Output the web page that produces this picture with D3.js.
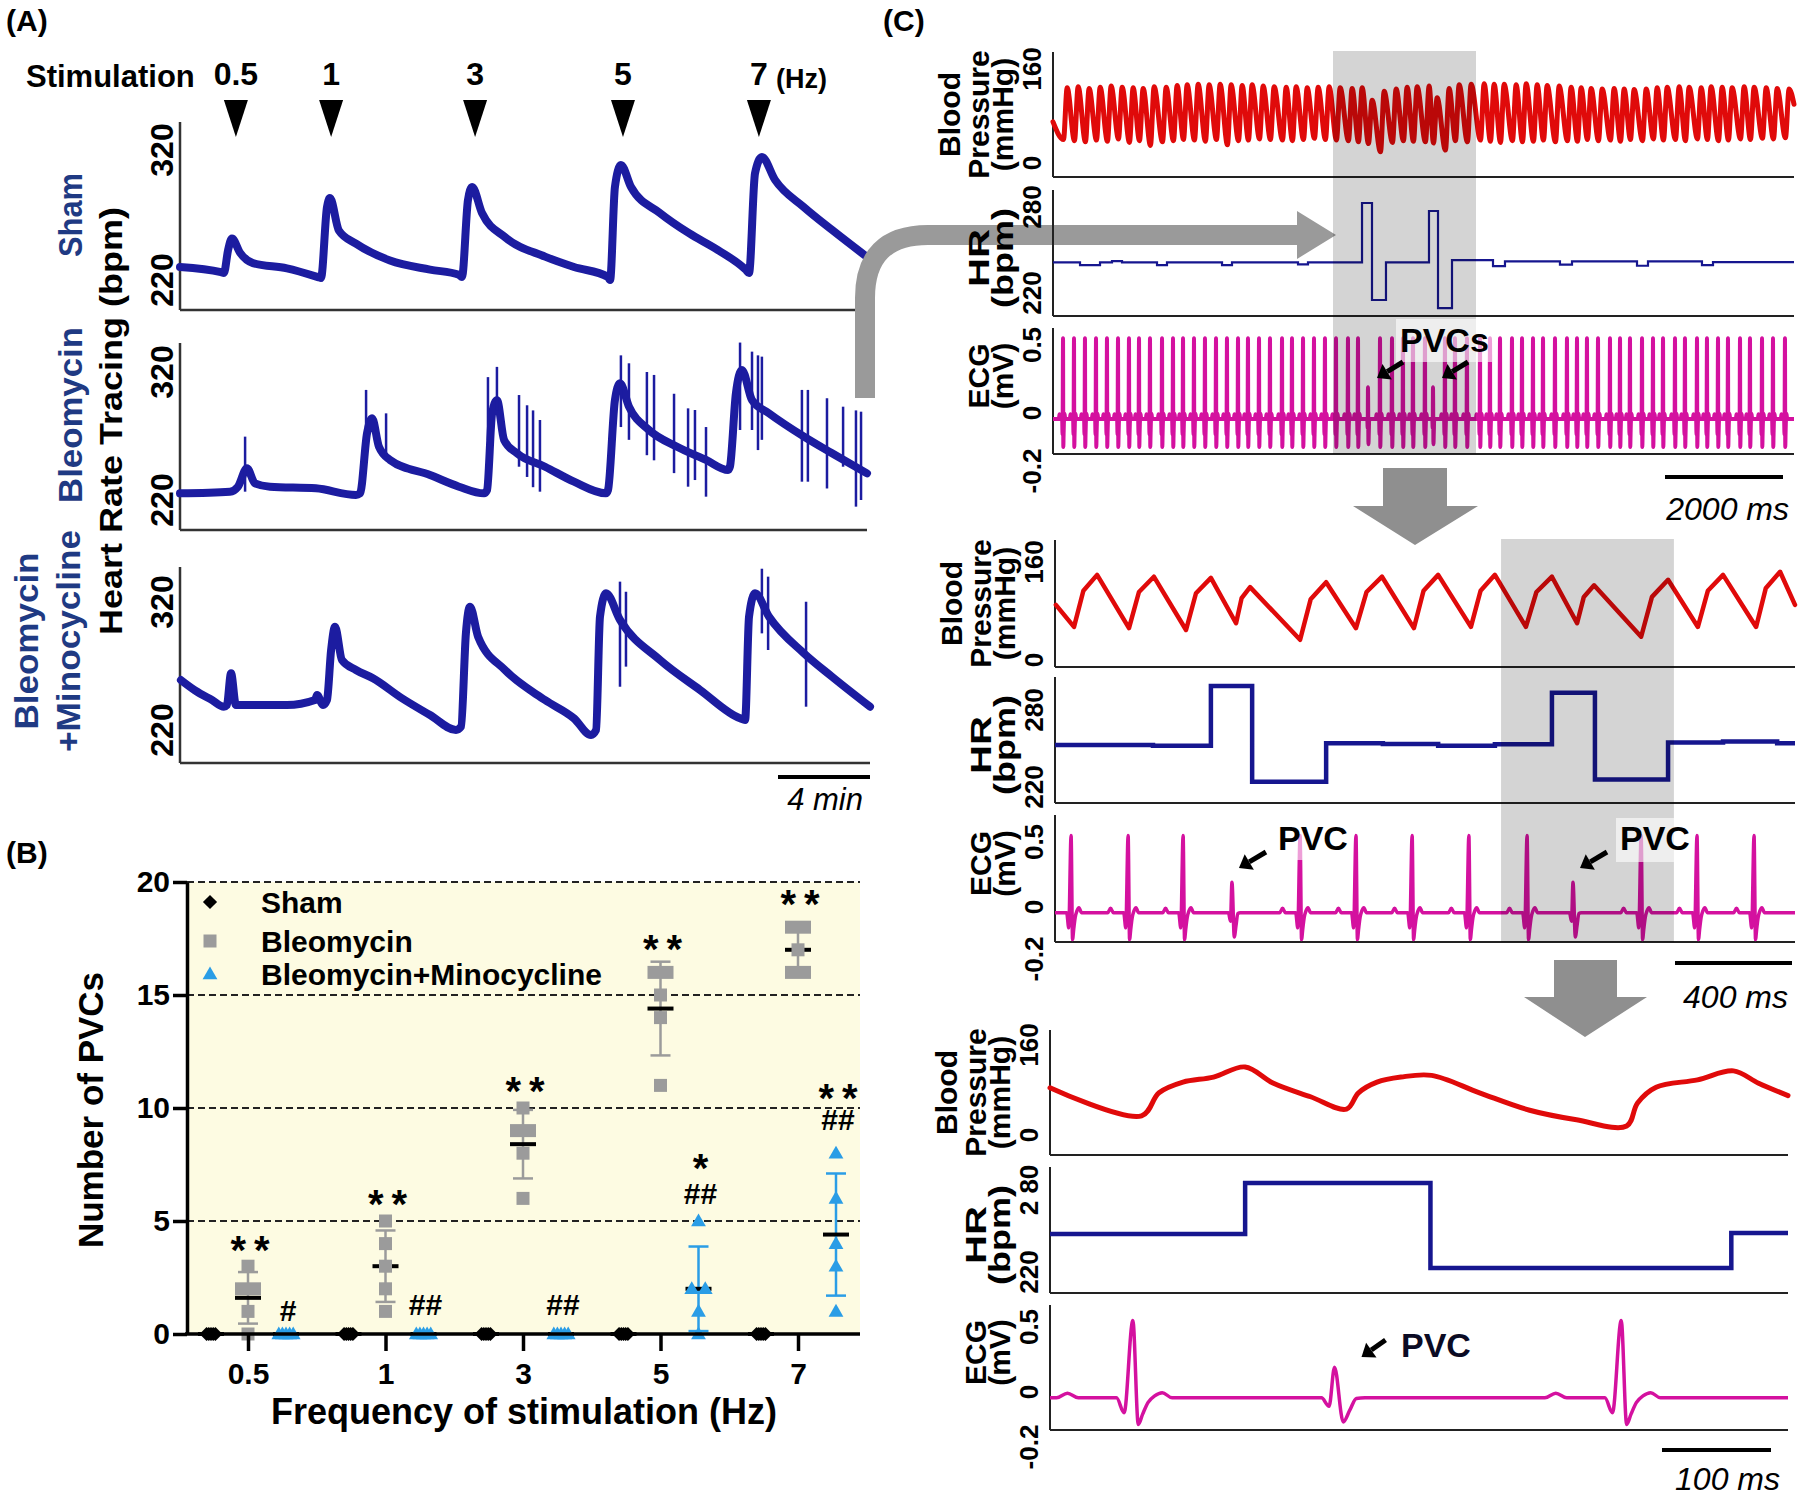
<!DOCTYPE html>
<html>
<head>
<meta charset="utf-8">
<script src="https://cdn.jsdelivr.net/npm/d3@7"></script>
<style>
  body { margin: 0; background: #fff; }
  svg { display: block; }
  text { font-family: "Liberation Sans", Arial, sans-serif; font-weight: bold; }
  text.plain { font-weight: normal; font-style: italic; }
</style>
</head>
<body>
<svg id="fig" width="1800" height="1496"></svg>
<script>
// ---------- Panel A: heart rate tracings (time in min, bpm) ----------
const stimLabels = ["0.5", "1", "3", "5", "7"];
const stimTimes = [2.43, 6.57, 12.83, 19.26, 25.17];

const shamTrace = [[0,230],[1.78,226],[1.91,225.4],[2.09,243],[2.26,252],[2.61,241],[3.17,233],[4.65,229],[6.04,222],[6.13,221.5],[6.39,276],[6.52,283],[6.91,258],[7.65,248],[9.13,235],[10.87,228],[12.13,224],[12.26,222.3],[12.52,281.5],[12.70,291.5],[13.13,271.5],[14.13,253],[15.87,238],[17.13,230],[18.61,222.3],[18.70,220],[18.91,291.5],[19.17,308.5],[19.61,291.5],[20.87,271.5],[22.13,256],[23.39,243],[24.61,227.7],[24.74,225.4],[25.0,302],[25.30,314.6],[25.87,297],[27.13,276],[28.35,258.5],[29.87,237.7]];

const bleoTrace = [[0,225.2],[2.17,226.5],[2.52,230.4],[2.91,244.8],[3.26,233],[3.91,230.4],[5.91,229.1],[7.65,224],[7.83,225.2],[8.13,272],[8.35,283.8],[8.65,261.6],[9.13,251.3],[10.87,239.5],[12.13,230.4],[13.22,225.2],[13.35,227.8],[13.57,287.7],[13.78,298],[14.09,266.9],[14.65,256.5],[15.87,246],[17.13,234.3],[18.52,225.2],[18.61,227.8],[18.91,298],[19.13,311.2],[19.52,292.9],[20.39,274.7],[21.61,261.6],[22.87,251.3],[23.83,243.4],[23.91,246],[24.17,303.4],[24.43,321.6],[24.87,298],[25.61,287.7],[27.13,269.5],[28.35,256.5],[29.87,240.8]];
// spikes: [time, top bpm, bottom bpm]
const bleoSpikes = [[2.83,269.5,226.5],[8.09,306,277],[8.96,287.7,253.8],[13.39,316,267],[13.78,324,290],[14.74,302,246],[15.09,294,238],[15.35,290,230],[15.65,282.5,226.5],[19.17,333,277],[19.52,326.8,267],[20.30,320,255],[20.61,317.7,251],[21.48,303,241],[22.09,291.6,230.4],[22.39,290.3,235.6],[22.87,277,222.6],[24.35,343,274.7],[24.87,335.9,274.7],[25.13,333,259],[25.30,332,267],[27.04,306,234.3],[27.30,306,234.3],[28.13,299.5,229],[28.83,292.9,246],[29.39,290,214.8],[29.61,289,220]];

const minoTrace = [[0.04,259],[0.65,251],[1.39,243.4],[1.91,238.2],[2.04,239.5],[2.22,264.3],[2.43,239.5],[3.39,239.5],[4.65,239.5],[5.87,243.4],[5.96,247.3],[6.22,239.5],[6.39,243.4],[6.57,282.5],[6.74,300.7],[7.04,274.7],[7.65,266.9],[8.39,260.4],[9.65,244.8],[10.87,231.7],[12.0,220],[12.22,222.6],[12.43,295.5],[12.61,316.3],[12.96,292.9],[14.13,266.9],[15.87,243.4],[17.13,229.1],[17.87,216.1],[18.09,220],[18.26,308.5],[18.52,326.8],[19.13,306],[20.87,274.7],[22.61,251.3],[24.35,229.1],[24.57,227.8],[24.74,308.5],[25.0,326.8],[25.61,308.5],[27.13,279.9],[28.35,261.6],[30.0,238.2]];
const minoSpikes = [[19.13,335.9,253.8],[19.39,328,269.5],[25.30,346,295.5],[25.57,339.8,282.5],[27.22,320.2,238.2]];

// ---------- Panel B: number of PVCs ----------
const freqs = ["0.5", "1", "3", "5", "7"];
const shamPVC = [[0,0,0,0,0],[0,0,0,0,0],[0,0,0,0,0],[0,0,0,0,0],[0,0,0,0,0]];
const bleoPVC = [[3,2,2,1,0],[5,4,3,2,1],[10,9,9,8,6],[16,16,15,14,11],[18,18,17,16,16]];
const minoPVC = [[0,0,0,0,0],[0,0,0,0,0],[0,0,0,0,0],[5,2,2,1,0],[8,6,4,3,1]];
const bleoMarks = [[["**",4.0]],[["**",6.0]],[["**",11.0]],[["**",17.3]],[["**",19.3]]];
const minoMarks = [[["#",1.06]],[["##",1.3]],[["##",1.3]],[["*",7.6],["##",6.2]],[["**",10.7],["##",9.5]]];

// ---------- Panel C: recordings (time in ms) ----------
const normalBeat = [[-70,-0.045],[-60,-0.01],[-50,-0.045],[-15,-0.045],[-8,-0.16],[0,0.55],[5,-0.25],[9,-0.17],[14,-0.08],[20,-0.03],[27,-0.005],[36,-0.045]];
const pvcBeat = [[-12,-0.045],[-5,-0.11],[0,0.19],[8,-0.23],[14,-0.14],[20,-0.05],[28,-0.045]];

const ecg1Beats = [170,356,542,729,915,1102,1288,1458,1644,1848,2034,2204,2390,2576,2763,2949,3136,3305,3492,3678,3882,4051,4238,4424,4610,4797,5000,5170,5543,5746,5932,6102,6305,6644,6814,7017,7238,7407,7577,7780,7950,8136,8306,8509,8712,8882,9051,9238,9441,9611,9780,9984,10170,10340,10543,10712,10916,11085,11272,11441,11645,11814,12018,12204,12407];
const ecg1Pvcs = [5339, 6441];
const bp1Sys = [128,130,127,129,131,129,128,127,130,129, 132,133,134,133,134,133,132,133,131,130, 129,130,128,129,130,128,127,128, 107, 122,126,129,130,131, 111, 127,133,134,135,134, 134,133,135,133,132,131,129,128,127,126, 127,126,125,126,128,129,130,129,128,130, 129,128,130,129,128,127,126];
const bp1Dia = [40,38,36,39,37,41,35,38,30,36, 38,40,39,37,40,31,38,39,41,40, 39,38,40,42,40,39,38,36, 33,19,35,38,37,36,34,22,38,36, 39,37,35,38,36,37,39,36,38,37, 40,38,39,37,40,38,41,39,40,38, 41,40,38,39,41,40,42,41,43];
const hr1 = [[0,241.4],[458,239.5],[797,241.4],[1000,242.3],[1170,241.4],[1763,239.5],[1932,241.4],[2865,239.5],[3034,241.4],[4153,240],[4322,241.4],[5238,282.8],[5407,215.1],[5644,241.4],[6373,277.2],[6526,209.5],[6763,243],[7458,238.8],[7661,242],[8593,239.8],[8797,242],[9899,239],[10085,242],[11000,239.5],[11187,241.5],[12560,241.5]];

const bp2 = [[3,90],[65,54],[97,113],[144,139],[253,52],[287,111],[338,136],[448,49],[482,109],[533,134],[619,60],[638,101],[667,119],[838,33],[874,99],[927,127],[1029,52],[1065,111],[1118,136],[1227,52],[1260,113],[1310,139],[1422,54],[1455,113],[1504,139],[1610,54],[1646,111],[1699,136],[1785,60],[1808,103],[1843,122],[2004,38],[2041,103],[2096,131],[2198,54],[2232,113],[2284,139],[2397,54],[2430,117],[2479,144],[2530,90]];
const hr2 = [[0,252.7],[335,252.2],[533,298.7],[674,224.1],[927,254],[1121,253.5],[1310,252.2],[1504,253.3],[1699,293.5],[1846,225.9],[2096,254.6],[2284,255.4],[2469,254],[2530,254]];
const ecg2Beats = [55,250,438,838,1029,1221,1415,1614,2004,2195,2390];
const ecg2Pvcs = [605, 1771];

const bp3 = [[0,84],[84,34],[100,75],[122,94],[150,103],[179,121],[205,92],[239,68],[272,46],[283,75],[300,94],[322,103],[350,106],[394,75],[440,44],[483,27],[529,16],[539,57],[556,85],[594,98],[627,114],[650,92],[677,70]];
const hr3 = [[0,247.8],[179,285.1],[349,222.9],[625,248.5],[677,248.5]];
const ecg3Beats = [76, 524];
const ecg3Pvcs = [261];

// ---------------------------------------------------------------
const svg = d3.select("#fig");
const navy = "#1f3a83";

function vtext(parent, x, y, str, size, opts = {}) {
  const t = parent.append("text")
    .attr("transform", `translate(${x},${y}) rotate(-90)`)
    .attr("text-anchor", "middle")
    .attr("font-size", size)
    .attr("fill", opts.fill || "#000")
    .text(str);
  if (opts.len) t.attr("textLength", opts.len).attr("lengthAdjust", "spacingAndGlyphs");
  return t;
}

svg.append("text").attr("x", 6).attr("y", 31).attr("font-size", 30).text("(A)");
svg.append("text").attr("x", 6).attr("y", 863).attr("font-size", 30).text("(B)");
svg.append("text").attr("x", 883).attr("y", 31).attr("font-size", 30).text("(C)");

// ---------- Panel A ----------
const tA = d3.scaleLinear().domain([0, 30]).range([180, 870]);
const gA = svg.append("g");

gA.append("text").attr("x", 26).attr("y", 87).attr("font-size", 31).text("Stimulation");
gA.selectAll("text.stim").data(stimLabels).join("text")
  .attr("class", "stim")
  .attr("x", (d, i) => tA(stimTimes[i]))
  .attr("y", 85)
  .attr("text-anchor", "middle")
  .attr("font-size", 32)
  .text(d => d);
gA.append("text").attr("x", tA(stimTimes[4]) + 17).attr("y", 88).attr("font-size", 27).text("(Hz)");
gA.selectAll("path.tri").data(stimTimes).join("path")
  .attr("class", "tri")
  .attr("d", d => `M${tA(d) - 12},100L${tA(d) + 12},100L${tA(d)},137Z`)
  .attr("fill", "#000");

vtext(gA, 122, 421, "Heart Rate Tracing (bpm)", 31, { len: 428 });

const panelsA = [
  { lines: [["Sham", 82, 84]], cy: 215, trace: shamTrace, spikes: [], top: 122, bottom: 310, y320: 150, y220: 280, right: 867 },
  { lines: [["Bleomycin", 82, 176]], cy: 415, trace: bleoTrace, spikes: bleoSpikes, top: 343, bottom: 530, y320: 372, y220: 500, right: 867 },
  { lines: [["Bleomycin", 38, 177], ["+Minocycline", 80, 222]], cy: 641, trace: minoTrace, spikes: minoSpikes, top: 567, bottom: 763, y320: 602, y220: 730, right: 870 }
];

panelsA.forEach(p => {
  const y = d3.scaleLinear().domain([220, 320]).range([p.y220, p.y320]);
  const g = gA.append("g");
  p.lines.forEach(([s, bx, len]) => vtext(g, bx, p.cy, s, 33, { fill: navy, len: len }));
  [220, 320].forEach(v => vtext(g, 173, y(v), String(v), 32));
  g.append("line").attr("x1", 180).attr("x2", 180).attr("y1", p.top).attr("y2", p.bottom)
    .attr("stroke", "#333").attr("stroke-width", 2.5);
  g.append("line").attr("x1", 180).attr("x2", p.right).attr("y1", p.bottom).attr("y2", p.bottom)
    .attr("stroke", "#333").attr("stroke-width", 2.5);
  const line = d3.line().x(d => tA(d[0])).y(d => y(d[1])).curve(d3.curveMonotoneX);
  g.append("path").attr("d", line(p.trace))
    .attr("fill", "none").attr("stroke", "#1c1ca0").attr("stroke-width", 8)
    .attr("stroke-linejoin", "round").attr("stroke-linecap", "round");
  g.selectAll("line.spike").data(p.spikes).join("line")
    .attr("class", "spike")
    .attr("x1", d => tA(d[0])).attr("x2", d => tA(d[0]))
    .attr("y1", d => y(d[1])).attr("y2", d => y(d[2]))
    .attr("stroke", "#1c1ca0").attr("stroke-width", 2.5);
});

// "4 min" scale bar
gA.append("line").attr("x1", 870 - (tA(4) - tA(0))).attr("x2", 870).attr("y1", 777).attr("y2", 777)
  .attr("stroke", "#000").attr("stroke-width", 4);
gA.append("text").attr("class", "plain").attr("x", 863).attr("y", 810).attr("text-anchor", "end")
  .attr("font-size", 31).text("4 min");

// ---------- Panel B ----------
const xB = d3.scalePoint().domain(freqs).range([248, 798]);
const yB = d3.scaleLinear().domain([0, 20]).range([1334, 882]);
const gB = svg.append("g");
const grey = "#9b9b9b", blue = "#2a9de6";

gB.append("rect").attr("x", 187).attr("y", yB(20)).attr("width", 860 - 187).attr("height", yB(0) - yB(20))
  .attr("fill", "#fdfbe2");
gB.selectAll("line.grid").data([5, 10, 15, 20]).join("line")
  .attr("class", "grid")
  .attr("x1", 187).attr("x2", 860).attr("y1", d => yB(d)).attr("y2", d => yB(d))
  .attr("stroke", "#222").attr("stroke-width", 2).attr("stroke-dasharray", "7,4");

const series = [
  { data: shamPVC, dx: -37, color: "#000", shape: "diamond", dense: 2.2, pair: 12 },
  { data: bleoPVC, dx: 0, color: grey, shape: "square", dense: 3, pair: 13 },
  { data: minoPVC, dx: 38, color: blue, shape: "triangle", dense: 3.6, pair: 13.5 }
];
const symSquare = d3.symbol().type(d3.symbolSquare).size(169);
const symDiamond = d3.symbol().type(d3.symbolSquare).size(100);
const symTri = d3.symbol().type(d3.symbolTriangle).size(95);

series.forEach(s => {
  s.data.forEach((vals, ci) => {
    const cx = xB(freqs[ci]) + s.dx;
    const m = d3.mean(vals), sd = d3.deviation(vals);
    const g = gB.append("g");
    if (sd > 0) {
      g.append("line").attr("x1", cx).attr("x2", cx).attr("y1", yB(m - sd)).attr("y2", yB(m + sd))
        .attr("stroke", s.color).attr("stroke-width", 2.5);
      [m - sd, m + sd].forEach(v => g.append("line")
        .attr("x1", cx - 10).attr("x2", cx + 10).attr("y1", yB(v)).attr("y2", yB(v))
        .attr("stroke", s.color).attr("stroke-width", 2.5));
    }
    g.append("line").attr("x1", cx - 13).attr("x2", cx + 13).attr("y1", yB(m)).attr("y2", yB(m))
      .attr("stroke", "#000").attr("stroke-width", 4);
    const counts = d3.rollup(vals, v => v.length, v => v);
    const seen = new Map();
    vals.forEach(v => {
      const n = counts.get(v), k = seen.get(v) || 0;
      seen.set(v, k + 1);
      const step = n >= 4 ? s.dense : s.pair;
      const px = cx + (k - (n - 1) / 2) * step, py = yB(v);
      const p = g.append("path").attr("fill", s.color);
      if (s.shape === "square") p.attr("d", symSquare()).attr("transform", `translate(${px},${py})`);
      else if (s.shape === "diamond") p.attr("d", symDiamond()).attr("transform", `translate(${px},${py}) rotate(45)`);
      else p.attr("d", symTri()).attr("transform", `translate(${px},${py + 1})`);
    });
  });
});

function mark(x, v, str) {
  const star = str.includes("*");
  const fs = star ? 40 : 30;
  gB.append("text")
    .attr("x", x + (star ? 4 : 0))
    .attr("y", yB(v) + (star ? 20 : 10.5))
    .attr("text-anchor", "middle")
    .attr("font-size", fs)
    .attr("letter-spacing", star ? 8 : 0)
    .text(str);
}
bleoMarks.forEach((ms, ci) => ms.forEach(([s, v]) => mark(xB(freqs[ci]) + 2, v, s)));
minoMarks.forEach((ms, ci) => ms.forEach(([s, v]) => mark(xB(freqs[ci]) + 40, v, s)));

// axes
gB.append("g").attr("transform", "translate(187,0)")
  .call(d3.axisLeft(yB).tickValues([0, 5, 10, 15, 20]).tickSize(14).tickSizeOuter(0).tickPadding(3))
  .call(g => {
    g.select(".domain").attr("stroke", "#000").attr("stroke-width", 3.5);
    g.selectAll(".tick line").attr("stroke", "#000").attr("stroke-width", 3.5);
    g.selectAll(".tick text").attr("font-size", 30).attr("fill", "#000");
  });
gB.append("g").attr("transform", `translate(0,${yB(0)})`)
  .call(d3.axisBottom(xB).tickSize(17).tickSizeOuter(0).tickPadding(12))
  .call(g => {
    g.select(".domain").remove();
    g.selectAll(".tick line").attr("stroke", "#000").attr("stroke-width", 3.5);
    g.selectAll(".tick text").attr("font-size", 30).attr("fill", "#000");
  });
gB.append("line").attr("x1", 185).attr("x2", 860).attr("y1", yB(0)).attr("y2", yB(0))
  .attr("stroke", "#000").attr("stroke-width", 3.5);

gB.append("text").attr("x", 524).attr("y", 1424).attr("text-anchor", "middle").attr("font-size", 36)
  .text("Frequency of stimulation (Hz)");
vtext(gB, 103, 1110, "Number of PVCs", 35);

// legend
const legend = [["Sham", "diamond", "#000", 902], ["Bleomycin", "square", grey, 941], ["Bleomycin+Minocycline", "triangle", blue, 974]];
legend.forEach(([label, shape, color, ly]) => {
  const p = gB.append("path").attr("fill", color);
  if (shape === "square") p.attr("d", symSquare()).attr("transform", `translate(210,${ly})`);
  else if (shape === "diamond") p.attr("d", symDiamond()).attr("transform", `translate(210,${ly}) rotate(45)`);
  else p.attr("d", symTri()).attr("transform", `translate(210,${ly + 1})`);
  gB.append("text").attr("x", 261).attr("y", ly + 10.5).attr("font-size", 30).text(label);
});

// ---------- connecting arrows (behind the panel C labels) ----------
const arrowGrey = "#9a9a9a";
svg.append("path").attr("d", "M865,398 L865,298 Q865,235 928,235 L1298,235")
  .attr("fill", "none").attr("stroke", arrowGrey).attr("stroke-width", 20);
svg.append("path").attr("d", "M1297,211 L1336,235 L1297,259 Z").attr("fill", arrowGrey);
svg.append("path").attr("d", "M1383,468 L1447,468 L1447,506 L1478,506 L1415,545 L1353,506 L1383,506 Z").attr("fill", "#8f8f8f");
svg.append("path").attr("d", "M1554,960 L1617,960 L1617,997 L1647,997 L1585,1037 L1524,997 L1554,997 Z").attr("fill", "#8f8f8f");

// ---------- Panel C ----------
const gC = svg.append("g");
const red = "#e00a0a", magenta = "#d4119f", hrBlue = "#16168f";

function ecgPoints(beats, pvcs, tmax) {
  const pts = [[0, -0.045]];
  beats.forEach(t => normalBeat.forEach(([dt, v]) => { if (t + dt > 0 && t + dt < tmax) pts.push([t + dt, v]); }));
  pvcs.forEach(t => pvcBeat.forEach(([dt, v]) => { if (t + dt > 0 && t + dt < tmax) pts.push([t + dt, v]); }));
  pts.push([tmax, -0.045]);
  return pts.sort((a, b) => a[0] - b[0]);
}

const bp1Beats = ecg1Beats.concat(ecg1Pvcs).sort((a, b) => a - b);
const bp1 = [[0, 70]];
bp1Beats.forEach((t, i) => bp1.push([t + 8, bp1Dia[i]], [t + 70, bp1Sys[i]]));
bp1.push([12560, 100]);

const blocks = [
  { x0: 1053, x1: 1794, tmax: 12560, bar: 2000, barRight: 1783, barY: 477, barText: "2000 ms", textRight: 1789, textY: 520,
    shade: [4746, 7170], hrTicks: ["220", "280"],
    bp: { top: 52, bottom: 177, rng: [163, 69], data: bp1, w: 5, curve: d3.curveMonotoneX },
    hr: { top: 190, bottom: 316, rng: [293, 207], data: hr1, w: 2.2 },
    ecg: { top: 328, bottom: 454, rng: [413, 345], beats: ecg1Beats, pvcs: ecg1Pvcs, w: 4 } },
  { x0: 1055, x1: 1795, tmax: 2530, bar: 400, barRight: 1792, barY: 963, barText: "400 ms", textRight: 1788, textY: 1008,
    shade: [1525, 2116], hrTicks: ["220", "280"],
    bp: { top: 540, bottom: 667, rng: [660, 562], data: bp2, w: 4.5, curve: d3.curveLinear },
    hr: { top: 677, bottom: 803, rng: [787, 710], data: hr2, w: 4.5 },
    ecg: { top: 815, bottom: 942, rng: [907, 842], beats: ecg2Beats, pvcs: ecg2Pvcs, w: 3.5 } },
  { x0: 1050, x1: 1788, tmax: 677, bar: 100, barRight: 1771, barY: 1450, barText: "100 ms", textRight: 1780, textY: 1490,
    shade: null, hrTicks: ["220", "2 80"],
    bp: { top: 1030, bottom: 1155, rng: [1135, 1045], data: bp3, w: 5, curve: d3.curveCatmullRom.alpha(0.5) },
    hr: { top: 1167, bottom: 1293, rng: [1272, 1190], data: hr3, w: 4.5 },
    ecg: { top: 1305, bottom: 1430, rng: [1392, 1327], beats: ecg3Beats, pvcs: ecg3Pvcs, w: 3.5 } }
];

function frame(g, b, s) {
  g.append("line").attr("x1", b.x0).attr("x2", b.x0).attr("y1", s.top).attr("y2", s.bottom)
    .attr("stroke", "#222").attr("stroke-width", 2);
  g.append("line").attr("x1", b.x0).attr("x2", b.x1).attr("y1", s.bottom).attr("y2", s.bottom)
    .attr("stroke", "#222").attr("stroke-width", 2);
}

blocks.forEach(b => {
  const g = gC.append("g");
  const x = d3.scaleLinear().domain([0, b.tmax]).range([b.x0, b.x1]);

  // blood pressure
  const yBP = d3.scaleLinear().domain([0, 160]).range(b.bp.rng);
  frame(g, b, b.bp);
  const cBP = (b.bp.top + b.bp.bottom) / 2;
  vtext(g, b.x0 - 93, cBP, "Blood", 30);
  vtext(g, b.x0 - 64, cBP, "Pressure", 30);
  vtext(g, b.x0 - 40, cBP, "(mmHg)", 30);
  [[0, "0"], [160, "160"]].forEach(([v, s]) => vtext(g, b.x0 - 12, yBP(v), s, 26));
  g.append("path").attr("d", d3.line().x(d => x(d[0])).y(d => yBP(d[1])).curve(b.bp.curve)(b.bp.data))
    .attr("fill", "none").attr("stroke", red).attr("stroke-width", b.bp.w)
    .attr("stroke-linejoin", "round").attr("stroke-linecap", "round");

  // heart rate
  const yHR = d3.scaleLinear().domain([220, 280]).range(b.hr.rng);
  frame(g, b, b.hr);
  const cHR = (b.hr.top + b.hr.bottom) / 2 + 5;
  vtext(g, b.x0 - 64, cHR, "HR", 30, { len: 58 });
  vtext(g, b.x0 - 40, cHR, "(bpm)", 30, { len: 100 });
  [[220, b.hrTicks[0]], [280, b.hrTicks[1]]].forEach(([v, s]) => vtext(g, b.x0 - 12, yHR(v), s, 26));
  g.append("path").attr("d", d3.line().x(d => x(d[0])).y(d => yHR(d[1])).curve(d3.curveStepAfter)(b.hr.data))
    .attr("fill", "none").attr("stroke", hrBlue).attr("stroke-width", b.hr.w);

  // ECG
  const yE = d3.scaleLinear().domain([0, 0.5]).range(b.ecg.rng);
  frame(g, b, b.ecg);
  const cE = (b.ecg.top + b.ecg.bottom) / 2 - 15;
  vtext(g, b.x0 - 64, cE, "ECG", 30);
  vtext(g, b.x0 - 40, cE, "(mV)", 30);
  [[0.5, "0.5"], [0, "0"], [-0.2, "-0.2"]].forEach(([v, s]) =>
    vtext(g, b.x0 - 12, v < 0 ? b.ecg.bottom + 17 : yE(v), s, 26));
  g.append("path")
    .attr("d", d3.line().x(d => x(d[0])).y(d => yE(d[1])).curve(d3.curveMonotoneX)(ecgPoints(b.ecg.beats, b.ecg.pvcs, b.tmax)))
    .attr("fill", "none").attr("stroke", magenta).attr("stroke-width", b.ecg.w)
    .attr("stroke-linejoin", "round");

  // shaded window
  if (b.shade) {
    g.append("rect").attr("x", x(b.shade[0])).attr("width", x(b.shade[1]) - x(b.shade[0]))
      .attr("y", b.bp.top - 1).attr("height", b.ecg.bottom - b.bp.top + 1)
      .attr("fill", "#000").attr("opacity", 0.17);
  }

  // scale bar
  const len = x(b.bar) - x(0);
  g.append("line").attr("x1", b.barRight - len).attr("x2", b.barRight).attr("y1", b.barY).attr("y2", b.barY)
    .attr("stroke", "#000").attr("stroke-width", 4);
  g.append("text").attr("class", "plain").attr("x", b.textRight).attr("y", b.textY).attr("text-anchor", "end")
    .attr("font-size", 32).text(b.barText);

  b.x = x;
});

// PVC annotations: white label boxes, text and arrows
function arrow(tipX, tipY, dx, dy) {
  const L = Math.hypot(dx, dy), ux = dx / L, uy = dy / L;
  const hx = tipX + ux * 12, hy = tipY + uy * 12;
  gC.append("line").attr("x1", hx).attr("y1", hy).attr("x2", tipX + dx).attr("y2", tipY + dy)
    .attr("stroke", "#000").attr("stroke-width", 5);
  gC.append("path")
    .attr("d", `M${tipX},${tipY}L${hx - uy * 9},${hy + ux * 9}L${hx + uy * 9},${hy - ux * 9}Z`)
    .attr("fill", "#000");
}
const b1 = blocks[0], b2 = blocks[1], b3 = blocks[2];
gC.append("rect").attr("x", 1396).attr("y", 319).attr("width", 96).attr("height", 43)
  .attr("fill", "#fff").attr("opacity", 0.6);
gC.append("text").attr("x", 1400).attr("y", 352).attr("font-size", 34).text("PVCs");
ecg1Pvcs.forEach(t => arrow(b1.x(t) + 9, 378, 26, -16));

gC.append("rect").attr("x", 1275).attr("y", 819).attr("width", 77).attr("height", 41)
  .attr("fill", "#fff").attr("opacity", 0.6);
gC.append("rect").attr("x", 1616).attr("y", 818).attr("width", 77).attr("height", 44)
  .attr("fill", "#fff").attr("opacity", 0.6);
[[ecg2Pvcs[0], 1278], [ecg2Pvcs[1], 1620]].forEach(([t, tx]) => {
  gC.append("text").attr("x", tx).attr("y", 850).attr("font-size", 34).text("PVC");
  arrow(b2.x(t) + 7, 868, 27, -16);
});
gC.append("text").attr("x", 1401).attr("y", 1357).attr("font-size", 34).attr("fill", "#0b0b24").text("PVC");
arrow(b3.x(ecg3Pvcs[0]) + 27, 1357, 24, -17);
</script>
</body>
</html>
